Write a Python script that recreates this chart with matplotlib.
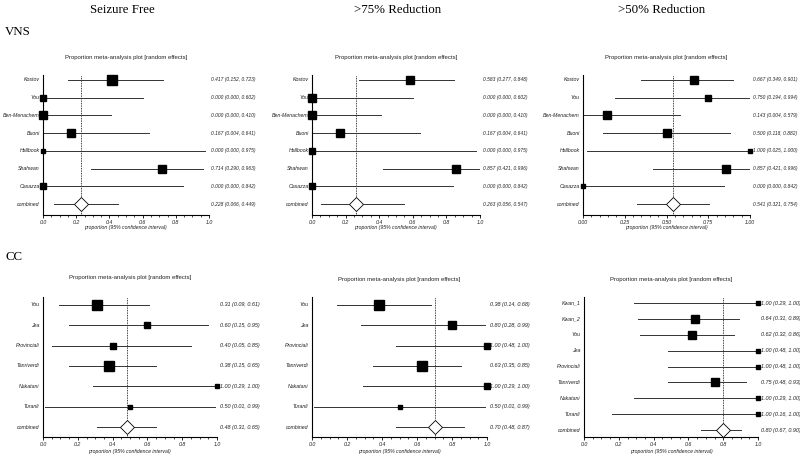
import numpy as np
import matplotlib
matplotlib.use("Agg")
import matplotlib.pyplot as plt
from matplotlib.ticker import MultipleLocator

# ---- data ----
vns_studies = ["Kostov", "You", "Ben-Menachem", "Buoni", "Hallbook", "Shahwan", "Casazza"]

vns_sf_est = [0.417, 0.000, 0.000, 0.167, 0.000, 0.714, 0.000]
vns_sf_lo = [0.152, 0.000, 0.000, 0.004, 0.000, 0.290, 0.000]
vns_sf_hi = [0.723, 0.602, 0.410, 0.641, 0.975, 0.963, 0.842]
vns_sf_w = [9, 6, 8, 7, 4, 8, 6]
vns_sf_comb = [0.228, 0.066, 0.449]

vns_75_est = [0.583, 0.000, 0.000, 0.167, 0.000, 0.857, 0.000]
vns_75_lo = [0.277, 0.000, 0.000, 0.004, 0.000, 0.421, 0.000]
vns_75_hi = [0.848, 0.602, 0.410, 0.641, 0.975, 0.996, 0.842]
vns_75_w = [8, 7, 8, 8, 5, 8, 6]
vns_75_comb = [0.263, 0.056, 0.547]

vns_50_est = [0.667, 0.750, 0.143, 0.500, 1.000, 0.857, 0.000]
vns_50_lo = [0.349, 0.194, 0.004, 0.118, 0.025, 0.421, 0.000]
vns_50_hi = [0.901, 0.994, 0.579, 0.882, 1.000, 0.996, 0.842]
vns_50_w = [8, 6, 7, 8, 3.5, 8, 3.5]
vns_50_comb = [0.541, 0.321, 0.754]

cc_studies = ["You", "Jea", "Provinciali", "Tanriverdi", "Nakatani", "Turanli"]

cc_sf_est = [0.31, 0.60, 0.40, 0.38, 1.00, 0.50]
cc_sf_lo = [0.09, 0.15, 0.05, 0.15, 0.29, 0.01]
cc_sf_hi = [0.61, 0.95, 0.85, 0.65, 1.00, 0.99]
cc_sf_w = [9, 6, 6, 10, 4, 4]
cc_sf_comb = [0.48, 0.31, 0.65]

cc_75_est = [0.38, 0.80, 1.00, 0.63, 1.00, 0.50]
cc_75_lo = [0.14, 0.28, 0.48, 0.35, 0.29, 0.01]
cc_75_hi = [0.68, 0.99, 1.00, 0.85, 1.00, 0.99]
cc_75_w = [10, 8, 6, 10, 5, 4]
cc_75_comb = [0.70, 0.48, 0.87]

cc50_studies = ["Kwan_1", "Kwan_2", "You", "Jea", "Provinciali", "Tanriverdi", "Nakatani", "Turanli"]
cc_50_est = [1.00, 0.64, 0.62, 1.00, 1.00, 0.75, 1.00, 1.00]
cc_50_lo = [0.29, 0.31, 0.32, 0.48, 0.48, 0.48, 0.29, 0.16]
cc_50_hi = [1.00, 0.89, 0.86, 1.00, 1.00, 0.93, 1.00, 1.00]
cc_50_w = [3, 7, 7.5, 3.5, 3.5, 8, 3, 3]
cc_50_comb = [0.80, 0.67, 0.90]

col_titles = ["Seizure Free", ">75% Reduction", ">50% Reduction"]
W, H = 800, 459

fig = plt.figure(figsize=(8, 4.59), dpi=100)
sans = "Liberation Sans"
serif = "Liberation Serif"


def ftext(x, y, s, **kw):
    fig.text(x / W, 1 - y / H, s, **kw)


def forest(box, studies, est, lo, hi, w, comb, ndec, fs, top_pad, bot_pad,
           title_y, xlab_y, major=0.2, fmt="%.1f"):
    l, r, t, b = box
    ax = fig.add_axes([l / W, 1 - b / H, (r - l) / W, (b - t) / H])
    names = list(studies) + ["combined"]
    n = len(names)
    y = np.arange(n)
    for i in range(len(studies)):
        ax.plot([lo[i], hi[i]], [y[i], y[i]], color="#333333", lw=0.7, zorder=2)
        ax.plot(est[i], y[i], marker="s", color="black", ms=w[i] * 0.78,
                ls="none", zorder=3, clip_on=False)
    ax.plot([comb[1], comb[2]], [n - 1, n - 1], color="#333333", lw=0.7, zorder=2)
    ax.plot(comb[0], n - 1, marker="D", mfc="white", mec="black", mew=0.6,
            ms=7, ls="none", zorder=3)
    ax.axvline(comb[0], color="black", ls=(0, (1, 1)), lw=0.6, zorder=1)

    ax.set_xlim(0, 1)
    ax.set_ylim(n - 1 + bot_pad, -top_pad)
    for sp in ["top", "right"]:
        ax.spines[sp].set_visible(False)
    ax.spines["left"].set_linewidth(0.8)
    ax.spines["bottom"].set_linewidth(0.8)
    ax.set_yticks([])
    ax.xaxis.set_major_locator(MultipleLocator(major))
    ax.xaxis.set_minor_locator(MultipleLocator(0.05))
    ax.xaxis.set_major_formatter(plt.FormatStrFormatter(fmt))
    ax.tick_params(axis="x", which="major", length=2.5, width=0.6, pad=1,
                   labelsize=3.8, labelcolor="#222222")
    ax.tick_params(axis="x", which="minor", length=1.5, width=0.5)
    for lab in ax.get_xticklabels():
        lab.set_fontstyle("italic")
        lab.set_family(sans)

    for i, nm in enumerate(names):
        ax.text(-0.02, y[i], nm, ha="right", va="center", fontsize=3.8,
                style="italic", family=sans, color="#222222",
                transform=ax.get_yaxis_transform())
        if i < len(studies):
            e, a, c = est[i], lo[i], hi[i]
        else:
            e, a, c = comb
        s = f"{e:.{ndec}f} ({a:.{ndec}f}, {c:.{ndec}f})"
        ax.text(1.015, y[i], s, ha="left", va="center", fontsize=fs,
                style="italic", family=sans, color="#222222",
                transform=ax.get_yaxis_transform())

    ftext((l + r) / 2, title_y, "Proportion meta-analysis plot [random effects]",
          ha="center", va="center", fontsize=4.3, family=sans, color="#222222")
    ftext((l + r) / 2, xlab_y, "proportion (95% confidence interval)",
          ha="center", va="center", fontsize=3.7, style="italic", family=sans,
          color="#222222")
    return ax


# top row (VNS)
forest((43, 209, 75, 215), vns_studies, vns_sf_est, vns_sf_lo, vns_sf_hi, vns_sf_w,
       vns_sf_comb, 3, 3.5, 0.28, 0.62, 57, 228)
forest((312, 480, 75, 215), vns_studies, vns_75_est, vns_75_lo, vns_75_hi, vns_75_w,
       vns_75_comb, 3, 3.5, 0.28, 0.62, 57, 228)
forest((583, 750, 75, 215), vns_studies, vns_50_est, vns_50_lo, vns_50_hi, vns_50_w,
       vns_50_comb, 3, 3.5, 0.28, 0.62, 57, 228, major=0.25, fmt="%.2f")

# bottom row (CC)
forest((43, 217, 297, 437), cc_studies, cc_sf_est, cc_sf_lo, cc_sf_hi, cc_sf_w,
       cc_sf_comb, 2, 4.0, 0.39, 0.49, 278, 452)
forest((312, 487, 297, 437), cc_studies, cc_75_est, cc_75_lo, cc_75_hi, cc_75_w,
       cc_75_comb, 2, 4.0, 0.39, 0.49, 280, 452)
forest((584, 758, 297, 437), cc50_studies, cc_50_est, cc_50_lo, cc_50_hi, cc_50_w,
       cc_50_comb, 2, 4.0, 0.38, 0.44, 280, 452)

# column headers and group labels
for x, s in zip([122, 398, 662], col_titles):
    ftext(x, 10, s, ha="center", va="center", fontsize=9.3, family=serif)
ftext(5, 32, "VNS", ha="left", va="center", fontsize=9.3, family=serif)
ftext(5, 257, "CC", ha="left", va="center", fontsize=9.3, family=serif)

fig.savefig("out.png", dpi=100)
